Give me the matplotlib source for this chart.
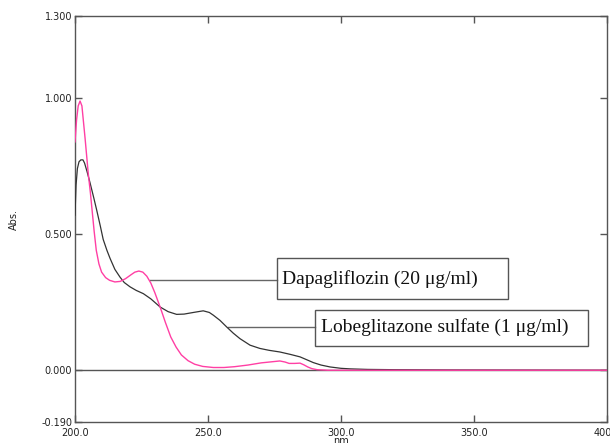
import matplotlib

matplotlib.use("Agg")
import matplotlib.pyplot as plt
from matplotlib.patches import Rectangle

# Dapagliflozin (20 ug/ml) - pink trace
dapa_nm = [200.0, 200.6, 201.2, 201.9, 202.6, 203.2, 203.8, 204.4, 205.0, 205.8,
           206.5, 207.2, 208.0, 209.0, 210.0, 211.5, 213.0, 215.0, 217.0, 219.0,
           221.0, 222.5, 224.0, 225.5, 227.0, 228.5, 230.0, 232.0, 234.0, 236.0,
           238.0, 240.0, 242.5, 245.0, 248.0, 252.0, 256.0, 260.0, 265.0, 270.0,
           274.0, 277.0, 279.0, 280.5, 282.5, 284.6, 286.0, 287.5, 289.0, 291.0,
           295.0, 320.0, 400.0]
dapa_abs = [0.838, 0.920, 0.970, 0.988, 0.970, 0.910, 0.850, 0.785, 0.720, 0.650,
            0.580, 0.510, 0.440, 0.390, 0.360, 0.340, 0.330, 0.324, 0.326, 0.336,
            0.350, 0.360, 0.364, 0.360, 0.345, 0.320, 0.285, 0.232, 0.175, 0.122,
            0.085, 0.056, 0.035, 0.022, 0.014, 0.010, 0.010, 0.013, 0.019, 0.027,
            0.031, 0.034, 0.030, 0.025, 0.025, 0.026, 0.020, 0.012, 0.006, 0.002,
            0.000, 0.000, 0.000]

# Lobeglitazone sulfate (1 ug/ml) - black trace
lobe_nm = [200.0, 200.4, 200.9, 201.5, 202.2, 203.0, 203.6, 204.5, 205.6, 207.0,
           208.1, 209.5, 210.6, 212.0, 213.2, 215.0, 216.9, 218.5, 220.7, 223.0,
           225.7, 228.5, 232.0, 235.0, 238.2, 241.0, 244.5, 248.2, 250.5, 252.0,
           254.5, 257.0, 259.5, 262.0, 265.8, 269.5, 273.0, 277.0, 281.0, 284.6,
           287.0, 289.6, 292.5, 295.9, 300.0, 303.4, 310.0, 320.0, 340.0, 400.0]
lobe_abs = [0.569, 0.680, 0.740, 0.765, 0.772, 0.772, 0.760, 0.730, 0.690, 0.635,
            0.590, 0.530, 0.480, 0.440, 0.410, 0.370, 0.342, 0.322, 0.306, 0.293,
            0.281, 0.262, 0.232, 0.215, 0.205, 0.206, 0.212, 0.218, 0.212, 0.202,
            0.183, 0.159, 0.136, 0.116, 0.092, 0.080, 0.073, 0.067, 0.058, 0.049,
            0.039, 0.028, 0.019, 0.012, 0.007, 0.005, 0.003, 0.002, 0.001, 0.000]

y_ticks = [1.3, 1.0, 0.5, 0.0, -0.19]
y_labels = ["1.300", "1.000", "0.500", "0.000", "-0.190"]
x_ticks = [200, 250, 300, 350, 400]
x_labels = ["200.0", "250.0", "300.0", "350.0", "400.0"]

C_PINK = "#ff3fa4"
C_BLACK = "#333333"
C_AXIS = "#555555"

fig = plt.figure(figsize=(6.10, 4.43), dpi=100)
ax = fig.add_axes([75 / 610, 21 / 443, 532 / 610, 406 / 443])
ax.set_xlim(200, 400)
ax.set_ylim(-0.19, 1.3)

ax.axhline(0, color=C_AXIS, lw=1.0, zorder=1)
ax.plot(lobe_nm, lobe_abs, color=C_BLACK, lw=0.9, zorder=3)
ax.plot(dapa_nm, dapa_abs, color=C_PINK, lw=1.0, zorder=3)

for side in ax.spines.values():
    side.set_color(C_AXIS)
    side.set_linewidth(1.0)

ax.set_xticks(x_ticks)
ax.set_xticklabels(x_labels)
ax.set_yticks(y_ticks)
ax.set_yticklabels(y_labels)
ax.tick_params(direction="in", length=5, width=1, colors=C_AXIS,
               labelcolor="#222222", labelsize=7, top=True, right=True)
ax.tick_params(axis="y", pad=2)
ax.tick_params(axis="x", pad=4)

ax.set_ylabel("Abs.", fontsize=7, color="#222222", labelpad=16)
ax.set_xlabel("nm", fontsize=7, color="#222222", labelpad=-1)

serif = "Liberation Serif"
# label boxes with leader lines
ax.add_patch(Rectangle((276.05, 0.263), 86.85, 0.1506, fill=False,
                       ec=C_AXIS, lw=1.0, zorder=4))
ax.add_patch(Rectangle((290.2, 0.088), 102.8, 0.132, fill=False,
                       ec=C_AXIS, lw=1.0, zorder=4))
ax.plot([228.2, 276.05], [0.33, 0.33], color="#666666", lw=1.0, zorder=2)
ax.plot([257.6, 290.2], [0.159, 0.159], color="#666666", lw=1.0, zorder=2)
ax.text(278.0, 0.336, "Dapagliflozin (20 μg/ml)", family=serif, fontsize=14,
        va="center", ha="left", color="#111111")
ax.text(292.5, 0.158, "Lobeglitazone sulfate (1 μg/ml)", family=serif, fontsize=14,
        va="center", ha="left", color="#111111")

fig.savefig("out.png", dpi=100)
